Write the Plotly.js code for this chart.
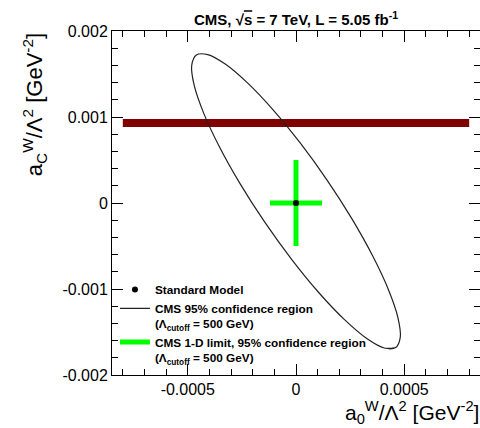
<!DOCTYPE html>
<html><head><meta charset="utf-8">
<script src="https://cdn.plot.ly/plotly-3.0.1.min.js"></script>
<style>html,body{margin:0;padding:0;background:#fff}</style>
</head><body><div id="chart" style="width:480px;height:428px"></div>
<script>
// CMS 95% confidence region: contour points
const ellipseX = [0.0004604, 0.0004076, 0.0003269, 0.0002241, 0.0001059, -0.0000194, -0.0001435, -0.0002578, -0.0003545, -0.0004271, -0.0004705, -0.0004818, -0.0004604, -0.0004076, -0.0003269, -0.0002241, -0.0001059, 0.0000194, 0.0001435, 0.0002578, 0.0003545, 0.0004271, 0.0004705, 0.0004818];
const ellipseY = [-0.0016803, -0.0016861, -0.0015756, -0.0013564, -0.0010434, -0.0006578, -0.0002262, 0.0002222, 0.000657, 0.0010482, 0.0013694, 0.0015987, 0.0017203, 0.0017261, 0.0016156, 0.0013964, 0.0010834, 0.0006978, 0.0002662, -0.0001822, -0.000617, -0.0010082, -0.0013294, -0.0015587];
// Standard Model point
const smX = [0];
const smY = [0];
// CMS 1-D limits (95% CL)
const limitA0 = [-0.00012, 0.00012];
const limitAC = [-0.0005, 0.0005];
// horizontal band
const bandX = [-0.0008, 0.0008];
const bandY = [0.00093, 0.00093];
// ticks
const xTickVals = [-0.0005, 0, 0.0005];
const xTickText = ['-0.0005', '0', '0.0005'];
const yTickVals = [-0.002, -0.001, 0, 0.001, 0.002];
const yTickText = ['-0.002', '-0.001', '0', '0.001', '0.002'];
const legendNames = [
  'Standard Model',
  'CMS 95% confidence region<br>(Λ<sub>cutoff</sub> = 500 GeV)',
  'CMS 1-D limit, 95% confidence region<br>(Λ<sub>cutoff</sub> = 500 GeV)'
];

const FONT = 'Liberation Sans, Arial, sans-serif';

// close the contour (repeat the first points so the spline joins smoothly)
const closedX = ellipseX.concat(ellipseX.slice(0, 3));
const closedY = ellipseY.concat(ellipseY.slice(0, 3));

const traces = [
  {x: bandX, y: bandY, mode: 'lines', line: {color: '#800000', width: 8}, showlegend: false, hoverinfo: 'skip'},
  {x: closedX, y: closedY, mode: 'lines', name: legendNames[1], legendrank: 2,
   line: {color: '#222', width: 1.2, shape: 'spline', smoothing: 1}},
  {x: [limitA0[0], limitA0[1], null, 0, 0], y: [0, 0, null, limitAC[0], limitAC[1]],
   mode: 'lines', name: legendNames[2], legendrank: 3, line: {color: '#00ff00', width: 5}},
  {x: smX, y: smY, mode: 'markers', name: legendNames[0], legendrank: 1,
   marker: {color: '#000', size: 6}}
];

const axisCommon = {
  showgrid: false, zeroline: false, showline: true, linecolor: '#000', linewidth: 1,
  mirror: 'allticks', ticks: 'inside', ticklen: 11, tickwidth: 1, tickcolor: '#000',
  tickmode: 'array', tickfont: {family: FONT, size: 16, color: '#000'}, fixedrange: true
};

const layout = {
  width: 480, height: 428,
  margin: {l: 112, r: 0, t: 31, b: 53},
  paper_bgcolor: '#fff', plot_bgcolor: '#fff',
  font: {family: FONT, color: '#000'},
  title: {
    text: "<b>CMS, √<span style='text-decoration:overline'>s</span> = 7 TeV, L = 5.05 fb<sup>-1</sup></b>",
    font: {family: FONT, size: 15, color: '#000'},
    x: 0.5, xref: 'paper', xanchor: 'center',
    y: 1 - 20 / 428, yref: 'container', yanchor: 'middle'
  },
  xaxis: Object.assign({}, axisCommon, {
    range: [-0.00085, 0.00085], tickvals: xTickVals, ticktext: xTickText,
    minor: {tickmode: 'linear', tick0: 0, dtick: 0.0001, ticks: 'inside', ticklen: 6, tickcolor: '#000', showgrid: false}
  }),
  yaxis: Object.assign({}, axisCommon, {
    range: [-0.002, 0.002], tickvals: yTickVals, ticktext: yTickText,
    minor: {tickmode: 'linear', tick0: 0, dtick: 0.0002, ticks: 'inside', ticklen: 6, tickcolor: '#000', showgrid: false}
  }),
  showlegend: true,
  legend: {
    x: 0.008, xanchor: 'left', y: 0.29, yanchor: 'top',
    bgcolor: 'rgba(0,0,0,0)', borderwidth: 0, valign: 'top',
    font: {family: FONT, size: 11.8, color: '#000', weight: 'bold'},
    tracegroupgap: 0, itemclick: false
  },
  annotations: [
    {text: 'a<sub>C</sub><sup>W</sup>/Λ<sup>2</sup> [GeV<sup>-2</sup>]', textangle: -90,
     xref: 'paper', yref: 'paper', x: -0.21, y: 1.0, xanchor: 'center', yanchor: 'top',
     showarrow: false, font: {family: FONT, size: 22, color: '#000'}},
    {text: 'a<sub>0</sub><sup>W</sup>/Λ<sup>2</sup> [GeV<sup>-2</sup>]',
     xref: 'paper', yref: 'paper', x: 1.0, y: -0.063, xanchor: 'right', yanchor: 'top',
     showarrow: false, borderpad: 0, font: {family: FONT, size: 21, color: '#000'}}
  ]
};

Plotly.newPlot('chart', traces, layout, {staticPlot: true, displayModeBar: false});
</script>
</body></html>
